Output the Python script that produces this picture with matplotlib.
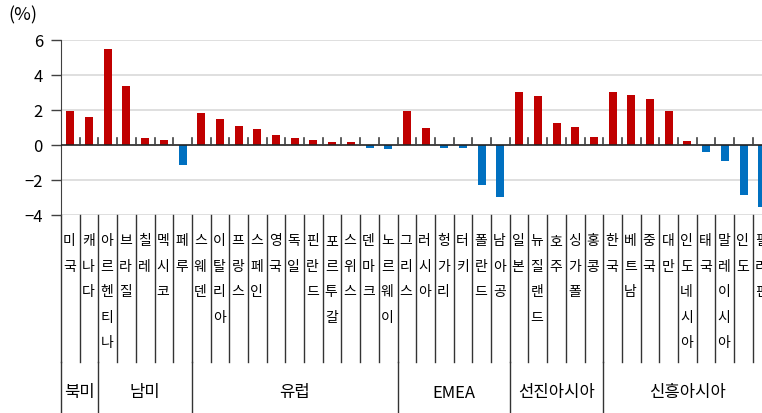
import matplotlib
matplotlib.use("Agg")
import matplotlib.pyplot as plt
import matplotlib.transforms as mtrans
import numpy as np

plt.rcParams['font.family'] = ['Noto Sans CJK KR', 'DejaVu Sans']

groups = ['북미', '남미', '유럽', 'EMEA', '선진아시아', '신흥아시아']
group_sizes = [2, 5, 11, 6, 5, 9]
countries = ['미국', '캐나다',
             '아르헨티나', '브라질', '칠레', '멕시코', '페루',
             '스웨덴', '이탈리아', '프랑스', '스페인', '영국', '독일', '핀란드',
             '포르투갈', '스위스', '덴마크', '노르웨이',
             '그리스', '러시아', '헝가리', '터키', '폴란드', '남아공',
             '일본', '뉴질랜드', '호주', '싱가폴', '홍콩',
             '한국', '베트남', '중국', '대만', '인도네시아', '태국', '말레이시아',
             '인도', '필리핀']
values = [1.9, 1.6,
          5.45, 3.33, 0.38, 0.27, -1.14,
          1.81, 1.49, 1.09, 0.88, 0.55, 0.4, 0.25, 0.13, 0.15, -0.19, -0.25,
          1.92, 0.95, -0.19, -0.19, -2.3, -2.99,
          3.01, 2.78, 1.24, 1.01, 0.44,
          3.01, 2.82, 2.63, 1.9, 0.21, -0.42, -0.93, -2.88, -3.54]

n = len(countries)
x = np.arange(n)
colors = ['#C00000' if v >= 0 else '#0070C0' for v in values]

fig = plt.figure(figsize=(7.62, 4.14), dpi=100)
W, H = 762, 414
left_px, top_px, bot_px = 61, 40.7, 215.7
cell = 18.7
ax = fig.add_axes([left_px / W, 1 - bot_px / H, n * cell / W, (bot_px - top_px) / H])

ax.bar(x, values, width=0.43, color=colors, zorder=3)
ax.set_xlim(-0.5, n - 0.5)
ax.set_ylim(-4, 6)
ax.set_yticks([-4, -2, 0, 2, 4, 6])
ax.set_yticklabels(['−4', '−2', '0', '2', '4', '6'], fontsize=12)
ax.tick_params(axis='y', length=7, width=1, color='#404040', pad=6)
ax.set_xticks([])
for s in ['top', 'right', 'bottom']:
    ax.spines[s].set_visible(False)
ax.spines['left'].set_color('#404040')
for g in [-4, -2, 2, 4, 6]:
    ax.axhline(g, color='#d9d9d9', lw=1.2, zorder=1)
ax.axhline(0, color='#222222', lw=1.2, zorder=4)

# small ticks on zero line
for b in np.arange(0.5, n, 1.0):
    ax.plot([b, b], [0, 0.4], color='#404040', lw=1.2, zorder=4)

trans = mtrans.blended_transform_factory(ax.transData, ax.transAxes)
ax_h = bot_px - top_px
lab_bottom = (bot_px - 363) / ax_h
fig_bottom = (bot_px - 414) / ax_h

# category separators
for b in np.arange(-0.5, n, 1.0):
    ax.plot([b, b], [0, lab_bottom], color='#333333', lw=1, transform=trans, clip_on=False)

# group separators
edges = np.concatenate([[0], np.cumsum(group_sizes)]) - 0.5
for b in edges:
    ax.plot([b, b], [lab_bottom, fig_bottom], color='#333333', lw=1, transform=trans, clip_on=False)

# country labels, stacked vertically
lab_top = (bot_px - 234) / ax_h
for i, name in enumerate(countries):
    ax.text(i - 0.05, lab_top, '\n'.join(name), transform=trans, ha='center', va='top',
            fontsize=10, linespacing=2.05, clip_on=False)

# group labels
grp_y = (bot_px - 393) / ax_h
for k, g in enumerate(groups):
    cx = (edges[k] + edges[k + 1]) / 2
    ax.text(cx, grp_y, g, transform=trans, ha='center', va='center', fontsize=12)

fig.text(8 / W, 1 - 15 / H, '(%)', fontsize=13, ha='left', va='center')

fig.savefig('out.png', dpi=100)
